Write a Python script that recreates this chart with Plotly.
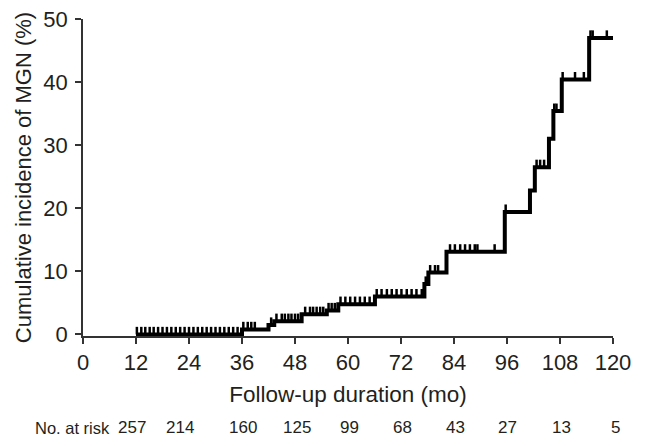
"""Cumulative incidence of MGN step curve with censor marks and risk table."""
import numpy as np
import plotly.graph_objects as go

# step curve: time (mo) at which each level starts, and the level (%)
step_months = [12, 36, 42, 43.3, 49.5, 55.2, 57.8, 66.1, 77.3, 78.2, 82.3,
               95.5, 101.2, 102.3, 105.5, 106.5, 108.4, 114.6, 120]
step_pct = [0, 0.8, 1.5, 2.1, 3.2, 3.8, 4.8, 6.0, 8.0, 9.8, 13.1,
            19.4, 22.8, 26.5, 31.0, 35.4, 40.4, 47.0, 47.0]

# censored observations (mo)
censor_months = [
    12.2, 13.2, 14.1, 15.1, 16.0, 17.0, 18.0, 19.0, 20.0, 21.0, 22.0, 23.0,
    24.0, 25.0, 26.0, 27.0, 28.0, 29.0, 30.0, 31.0, 32.0, 33.0, 34.0, 35.0,
    36.3, 37.3, 38.1, 38.9,
    42.6,
    43.8, 45.0, 45.7, 46.5, 47.2, 48.0, 48.7,
    50.3, 51.4, 52.1, 52.9, 53.7, 54.4,
    55.6, 56.3, 57.0,
    58.3, 59.4, 60.5, 61.6, 62.7, 63.8, 64.9,
    66.5, 67.6, 68.8, 69.9, 71.0, 72.1, 73.3, 74.4, 75.5, 76.7,
    77.6,
    78.6, 79.7, 80.4,
    83.1, 84.2, 85.4, 86.5, 87.6, 88.7, 89.3, 93.2,
    95.7,
    102.7, 103.5, 104.4,
    106.7, 107.2,
    108.6, 111.4, 113.4,
    114.9, 115.4, 118.6,
]

# number at risk table (label positions on the month axis as printed)
risk_x = [11.1, 22, 36.3, 48.4, 60.4, 72.4, 84.4, 96.2, 108.3, 120.6]
risk_counts = [257, 214, 160, 125, 99, 68, 43, 27, 13, 5]

X_MAX = 120
FONT = "Liberation Sans, Arial, sans-serif"
TEXT = "#231f20"
AXIS = "#333333"
RISK_Y = -0.29

# level of the curve at each censor time
idx = np.searchsorted(step_months, censor_months, side="right") - 1
censor_pct = [step_pct[i] for i in idx]

fig = go.Figure()
fig.add_trace(go.Scatter(
    x=step_months, y=step_pct,
    mode="lines", line=dict(color="black", width=4, shape="hv"),
    showlegend=False, hoverinfo="skip",
))
fig.add_trace(go.Scatter(
    x=censor_months, y=censor_pct,
    mode="markers", marker=dict(size=1, color="black"),
    error_y=dict(type="constant", value=1.2, valueminus=0, symmetric=False,
                 width=0, thickness=2.5, color="black"),
    showlegend=False, cliponaxis=False,
))

annotations = [dict(
    text="No. at risk", xref="paper", yref="paper", x=-0.094, y=RISK_Y,
    xanchor="left", yanchor="middle", showarrow=False,
    font=dict(family=FONT, size=16.5, color=TEXT),
)]
for m, n in zip(risk_x, risk_counts):
    annotations.append(dict(
        text=str(n), xref="paper", yref="paper", x=m / X_MAX, y=RISK_Y,
        xanchor="center", yanchor="middle", showarrow=False,
        font=dict(family=FONT, size=17, color=TEXT),
    ))

fig.update_layout(
    width=646, height=446,
    margin=dict(l=83, r=33, t=19, b=110),
    paper_bgcolor="white", plot_bgcolor="white",
    font=dict(family=FONT, color=TEXT),
    annotations=annotations,
)
fig.update_xaxes(
    range=[0, X_MAX], tickvals=list(range(0, 121, 12)),
    automargin=False,
    showgrid=False, zeroline=False,
    showline=True, linecolor=AXIS, linewidth=1.5,
    ticks="outside", ticklen=6, tickwidth=1.5, tickcolor=AXIS,
    tickfont=dict(family=FONT, size=22, color=TEXT),
    title=dict(text="Follow-up duration (mo)", standoff=12,
               font=dict(family=FONT, size=22.5, color=TEXT)),
)
fig.update_yaxes(
    range=[-0.25, 50], tickvals=list(range(0, 51, 10)),
    automargin=False,
    showgrid=False, zeroline=False,
    showline=True, linecolor=AXIS, linewidth=1.5,
    ticks="outside", ticklen=6, tickwidth=1.5, tickcolor=AXIS,
    ticklabelstandoff=3,
    tickfont=dict(family=FONT, size=22, color=TEXT),
    title=dict(text="Cumulative incidence of MGN (%)", standoff=6,
               font=dict(family=FONT, size=22, color=TEXT)),
)

# drop the browser's default page margin so the figure sits at (0, 0)
fig.write_html("out.html", config={"displayModeBar": False},
               post_script="document.body.style.margin='0';")
